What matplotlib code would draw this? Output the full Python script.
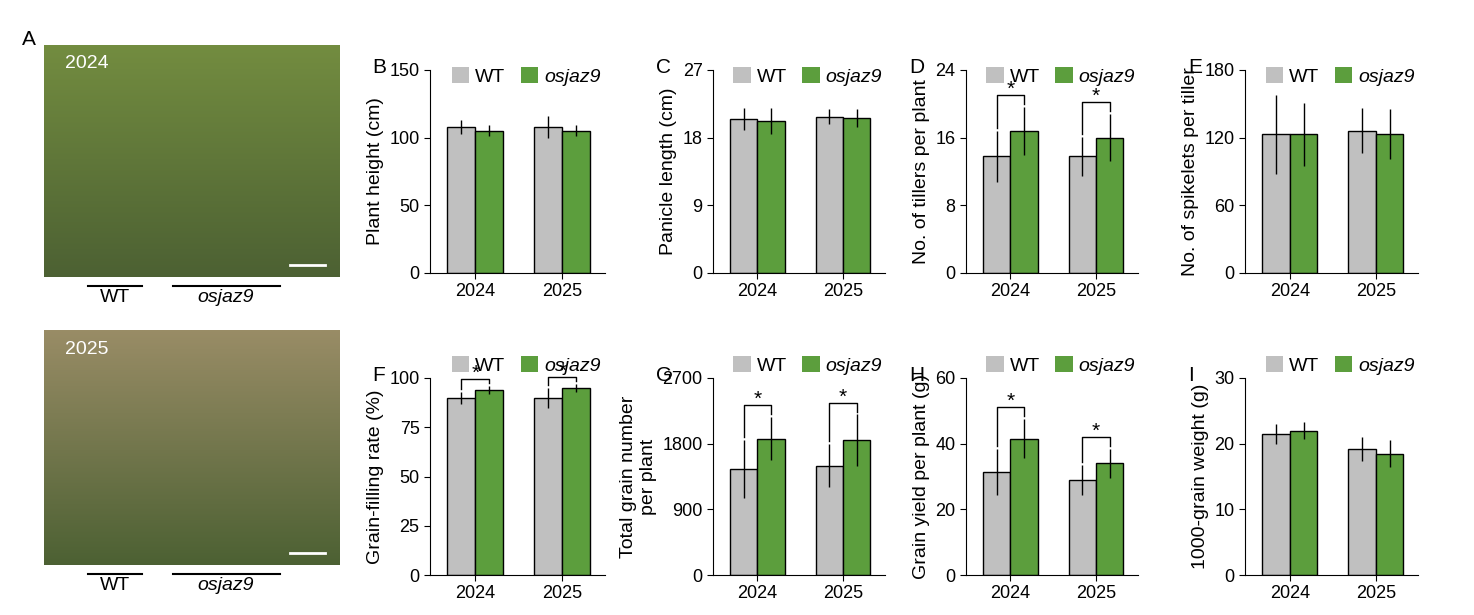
import matplotlib.pyplot as plt
import numpy as np
from matplotlib.patches import Patch

plt.rcParams['font.family'] = ['Liberation Sans', 'DejaVu Sans']

YEARS = ["2024", "2025"]
GRAY = "#c0c0c0"
GREEN = "#5c9e3d"

# panel: (letter, ylabel, ymax, ticks, wt, wt_err, mut, mut_err, stars)
PANELS = [
    ("B", "Plant height (cm)", 150, [0, 50, 100, 150], [108, 108], [5, 8], [105, 105], [4, 4], False),
    ("C", "Panicle length (cm)", 27, [0, 9, 18, 27], [20.5, 20.8], [1.5, 1.0], [20.2, 20.6], [1.7, 1.2], False),
    ("D", "No. of tillers per plant", 24, [0, 8, 16, 24], [13.8, 13.8], [3.0, 2.3], [16.8, 16.0], [2.8, 2.8], True),
    ("E", "No. of spikelets per tiller", 180, [0, 60, 120, 180], [123, 126], [35, 20], [123, 123], [28, 22], False),
    ("F", "Grain-filling rate (%)", 100, [0, 25, 50, 75, 100], [90, 90], [3, 5], [94, 95], [2, 2], True),
    ("G", "Total grain number\nper plant", 2700, [0, 900, 1800, 2700], [1450, 1500], [400, 300], [1870, 1850], [300, 350], True),
    ("H", "Grain yield per plant (g)", 60, [0, 20, 40, 60], [31.5, 29], [7, 4.5], [41.5, 34], [6, 4.5], True),
    ("I", "1000-grain weight (g)", 30, [0, 10, 20, 30], [21.5, 19.2], [1.5, 1.8], [22, 18.5], [1.3, 2.0], False),
]

W, H = 1474, 615
fig = plt.figure(figsize=(W / 100, H / 100), dpi=100)

def px_axes(x0, y0, x1, y1):
    return fig.add_axes([x0 / W, 1 - y1 / H, (x1 - x0) / W, (y1 - y0) / H])

# Panel A: photo placeholders
grad = np.linspace(0, 1, 100)[:, None]
for (y0, y1, year) in [(45, 277, "2024"), (330, 565, "2025")]:
    ax = px_axes(44, y0, 340, y1)
    top = np.array([0.45, 0.55, 0.25]) if year == "2024" else np.array([0.6, 0.55, 0.4])
    bot = np.array([0.3, 0.38, 0.2])
    img = top[None, None, :] * (1 - grad[:, :, None]) + bot[None, None, :] * grad[:, :, None]
    ax.imshow(np.repeat(img, 2, axis=1), aspect="auto", extent=[0, 1, 0, 1])
    ax.set_axis_off()
    ax.text(0.07, 0.9, year, color="white", fontsize=14, transform=ax.transAxes)
    ax.plot([0.83, 0.95], [0.05, 0.05], color="white", lw=2, transform=ax.transAxes)
    fig.add_artist(plt.Line2D([88 / W, 142 / W], [1 - (y1 + 9) / H] * 2, color="black", lw=1.5))
    fig.add_artist(plt.Line2D([173 / W, 280 / W], [1 - (y1 + 9) / H] * 2, color="black", lw=1.5))
    fig.text(115 / W, 1 - (y1 + 20) / H, "WT", ha="center", va="center", fontsize=14)
    fig.text(226 / W, 1 - (y1 + 20) / H, "osjaz9", ha="center", va="center", fontsize=14, style="italic")
fig.text(22 / W, 1 - 45 / H, "A", fontsize=15)

cols = [(430, 605), (713, 885), (966, 1138), (1245, 1418)]
rows = [(70, 273), (378, 575)]
leg_y = [1.1, 1.2]
x = np.arange(len(YEARS))
bw = 0.32
for i, (let, ylab, ymax, ticks, wt, wte, mu, mue, stars) in enumerate(PANELS):
    (cx0, cx1), (ry0, ry1) = cols[i % 4], rows[i // 4]
    ax = px_axes(cx0, ry0, cx1, ry1)
    ax.bar(x - bw / 2, wt, bw, yerr=wte, color=GRAY, edgecolor="black", lw=1,
           error_kw=dict(lw=1, ecolor="black"))
    ax.bar(x + bw / 2, mu, bw, yerr=mue, color=GREEN, edgecolor="black", lw=1,
           error_kw=dict(lw=1, ecolor="black"))
    if stars:
        gap = 0.035 if ymax == 100 else 0.06
        for j in range(len(YEARS)):
            a = wt[j] + wte[j]
            b = mu[j] + mue[j]
            top = max(a, b) + ymax * gap
            ax.plot([x[j] - bw / 2, x[j] - bw / 2, x[j] + bw / 2, x[j] + bw / 2],
                    [a + ymax * 0.015, top, top, b + ymax * 0.015], color="black", lw=1,
                    clip_on=False)
            ax.text(x[j], top - ymax * 0.02, "*", ha="center", va="bottom", fontsize=15)
    ax.set_xlim(-0.52, 1.49)
    ax.set_ylim(0, ymax)
    ax.set_yticks(ticks)
    ax.set_xticks(x)
    ax.set_xticklabels(YEARS)
    ax.tick_params(labelsize=13, length=4)
    for s in ["top", "right"]:
        ax.spines[s].set_visible(False)
    ax.set_ylabel(ylab, fontsize=14, labelpad=4)
    leg = ax.legend([Patch(facecolor=GRAY), Patch(facecolor=GREEN)], ["WT", "osjaz9"],
                    loc="upper center", bbox_to_anchor=(0.55, leg_y[i // 4]), ncol=2, frameon=False,
                    fontsize=14, handlelength=0.9, handleheight=0.9, handletextpad=0.3,
                    columnspacing=0.8)
    leg.get_texts()[1].set_style("italic")
    ax.text(-0.33, 1.06, let, transform=ax.transAxes, fontsize=15, va="top")

fig.savefig("out.png", dpi=100)
